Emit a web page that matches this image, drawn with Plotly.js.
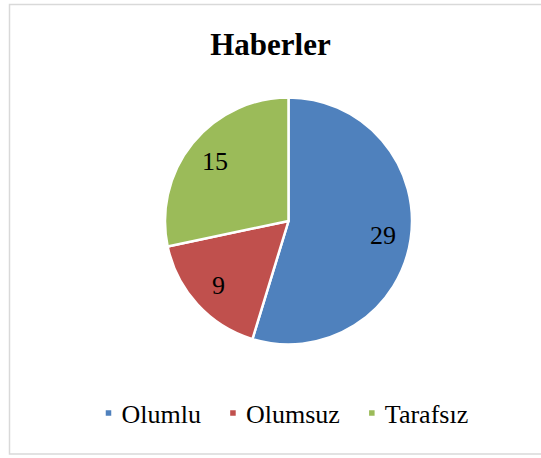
<!DOCTYPE html>
<html>
<head>
<meta charset="utf-8">
<script src="https://cdn.plot.ly/plotly-3.0.1.min.js"></script>
<style>html,body{margin:0;padding:0;background:#fff;}#chart{width:541px;height:458px;}</style>
</head>
<body>
<div id="chart"></div>
<script>
const categories = ['Olumlu', 'Olumsuz', 'Tarafsız'];
const values = [29, 9, 15];
const colors = ['#4f81bd', '#c0504d', '#9bbb59'];
const chartTitle = 'Haberler';

const W = 541, H = 458;
const cx = 288.5, cy = 221, r = 123.5;
const SERIF = 'Times New Roman, Liberation Serif, DejaVu Serif, serif';

const trace = {
  type: 'pie',
  labels: categories,
  values: values,
  sort: false,
  direction: 'clockwise',
  rotation: 0,
  textinfo: 'none',
  marker: {colors: colors, line: {color: '#ffffff', width: 2.5}},
  hoverinfo: 'none',
  domain: {x: [(cx - r) / W, (cx + r) / W], y: [(H - cy - r) / H, (H - cy + r) / H]}
};

// data labels placed along each slice's mid-angle (derived from the values)
const total = values.reduce((a, b) => a + b, 0);
const labelFrac = 0.77;
let cum = 0;
const annotations = values.map((v) => {
  const mid = (cum + v / 2) / total * 2 * Math.PI;
  cum += v;
  const px = cx + Math.sin(mid) * r * labelFrac;
  const py = cy - Math.cos(mid) * r * labelFrac;
  return {
    xref: 'paper', yref: 'paper', x: px / W, y: 1 - py / H,
    xanchor: 'center', yanchor: 'middle', showarrow: false,
    text: String(v),
    font: {family: SERIF, size: 26, color: '#000'}
  };
});

const layout = {
  width: W, height: H,
  margin: {l: 0, r: 0, t: 0, b: 0},
  paper_bgcolor: '#ffffff',
  font: {family: SERIF, color: '#000'},
  title: {
    text: '<b>' + chartTitle + '</b>',
    font: {family: SERIF, size: 31, color: '#000'},
    x: 0.5, xanchor: 'center', xref: 'paper',
    y: 1 - 44 / H, yanchor: 'middle', yref: 'container'
  },
  showlegend: true,
  legend: {
    orientation: 'h', x: 0.5 + 7 / W, xanchor: 'center', y: 1 - 413 / H, yanchor: 'middle',
    font: {family: SERIF, size: 26, color: '#000'},
    itemclick: false, itemdoubleclick: false
  },
  annotations: annotations,
  shapes: [{
    type: 'rect', xref: 'paper', yref: 'paper',
    x0: 9.5 / W, x1: 560 / W, y0: 1 - 454 / H, y1: 1 - 4.5 / H,
    line: {color: '#d9d9d9', width: 1.5}, fillcolor: 'rgba(0,0,0,0)'
  }]
};

Plotly.newPlot('chart', [trace], layout, {displayModeBar: false, staticPlot: true}).then(() => {
  // smaller legend swatches, as in the reference
  document.querySelectorAll('#chart .legendpoints path').forEach((p) => {
    const t = p.getAttribute('transform') || '';
    p.setAttribute('transform', t + ' translate(7,0) scale(0.58)');
  });
});
</script>
</body>
</html>
